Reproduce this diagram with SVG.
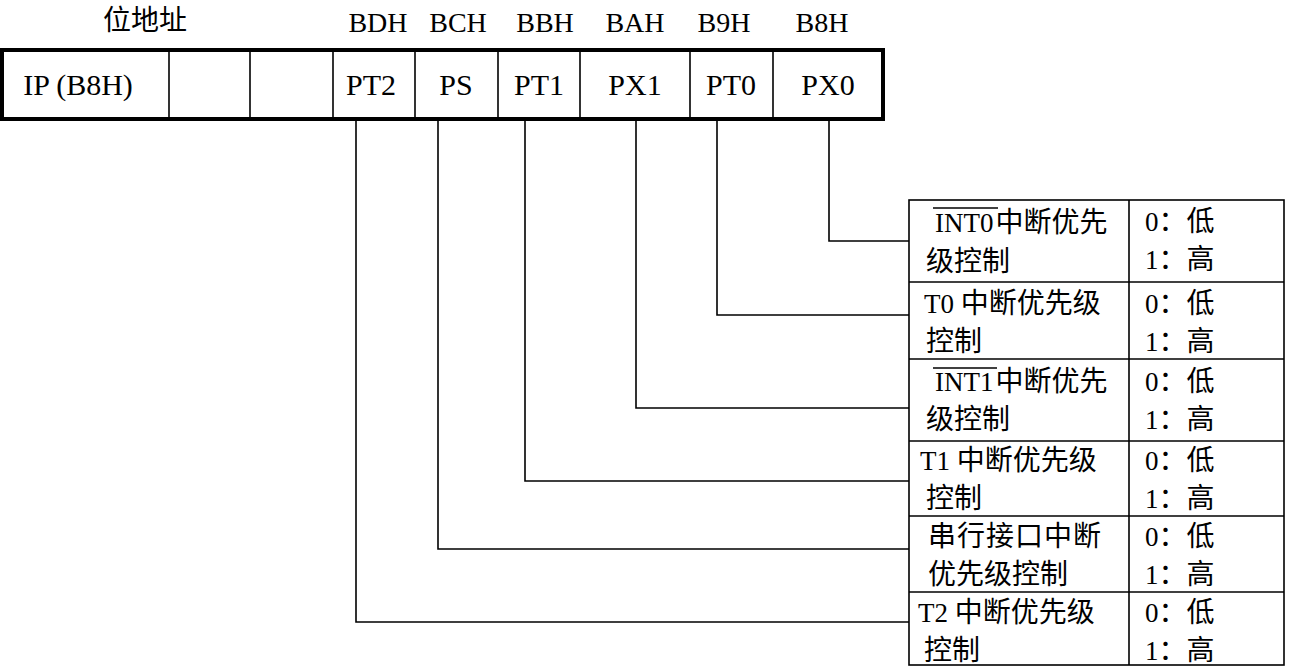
<svg xmlns="http://www.w3.org/2000/svg" width="1289" height="667" viewBox="0 0 1289 667">
<style>
.lat{font-family:"Liberation Serif","Noto Sans CJK SC",serif;fill:#000}
.hdr{font-size:28px;text-anchor:middle}
.reg{font-size:30px;text-anchor:middle}
.tb{font-size:27px}
.cj{font-family:"Noto Sans CJK SC","Liberation Serif",sans-serif;font-size:28px}
.thin{stroke:#000;stroke-width:1.6;fill:none}
.thick{stroke:#000;stroke-width:4;fill:none}
</style>
<rect width="1289" height="667" fill="#fff"/>
<g id="headers">
<text class="cj" x="145" y="30" text-anchor="middle" font-size="27">位地址</text>
<text class="lat hdr" x="378" y="32">BDH</text>
<text class="lat hdr" x="458" y="32">BCH</text>
<text class="lat hdr" x="545" y="32">BBH</text>
<text class="lat hdr" x="635" y="32">BAH</text>
<text class="lat hdr" x="724" y="32">B9H</text>
<text class="lat hdr" x="822" y="32">B8H</text>
</g>
<g id="register">
<line class="thin" x1="169" y1="50" x2="169" y2="119"/>
<line class="thin" x1="250" y1="50" x2="250" y2="119"/>
<line class="thin" x1="333" y1="50" x2="333" y2="119"/>
<line class="thin" x1="415" y1="50" x2="415" y2="119"/>
<line class="thin" x1="498" y1="50" x2="498" y2="119"/>
<line class="thin" x1="580" y1="50" x2="580" y2="119"/>
<line class="thin" x1="690" y1="50" x2="690" y2="119"/>
<line class="thin" x1="773" y1="50" x2="773" y2="119"/>
<rect class="thick" x="2" y="50" width="881" height="69"/>
<text class="lat reg" x="78" y="95">IP (B8H)</text>
<text class="lat reg" x="371" y="95">PT2</text>
<text class="lat reg" x="456" y="95">PS</text>
<text class="lat reg" x="539" y="95">PT1</text>
<text class="lat reg" x="635" y="95">PX1</text>
<text class="lat reg" x="731" y="95">PT0</text>
<text class="lat reg" x="828" y="95">PX0</text>
</g>
<g id="connectors">
<polyline class="thin" points="829,121 829,241 909,241"/>
<polyline class="thin" points="717,121 717,315 909,315"/>
<polyline class="thin" points="636,121 636,408 909,408"/>
<polyline class="thin" points="525,121 525,481 909,481"/>
<polyline class="thin" points="438,121 438,549 909,549"/>
<polyline class="thin" points="356,121 356,622 909,622"/>
</g>
<g id="table">
<rect class="thin" x="909" y="200" width="375" height="465" stroke-width="2"/>
<line class="thin" x1="1129" y1="200" x2="1129" y2="665"/>
<line class="thin" x1="909" y1="282" x2="1284" y2="282"/>
<line class="thin" x1="909" y1="359" x2="1284" y2="359"/>
<line class="thin" x1="909" y1="441" x2="1284" y2="441"/>
<line class="thin" x1="909" y1="516" x2="1284" y2="516"/>
<line class="thin" x1="909" y1="592" x2="1284" y2="592"/>
</g>
<g id="row-px0">
<text class="lat tb" x="935" y="232">INT0<tspan class="cj" dx="2">中断优先</tspan></text>
<line class="thin" x1="933" y1="208" x2="998" y2="208" stroke-width="1.4"/>
<text class="cj" x="926" y="271">级控制</text>
<text class="lat tb" x="1145" y="231">0<tspan class="cj">：低</tspan></text>
<text class="lat tb" x="1145" y="269">1<tspan class="cj">：高</tspan></text>
</g>
<g id="row-pt0">
<text class="lat tb" x="924" y="313">T0 <tspan class="cj">中断优先级</tspan></text>
<text class="cj" x="926" y="351">控制</text>
<text class="lat tb" x="1145" y="313">0<tspan class="cj">：低</tspan></text>
<text class="lat tb" x="1145" y="351">1<tspan class="cj">：高</tspan></text>
</g>
<g id="row-px1">
<text class="lat tb" x="935" y="391">INT1<tspan class="cj" dx="2">中断优先</tspan></text>
<line class="thin" x1="933" y1="368" x2="997" y2="368" stroke-width="1.4"/>
<text class="cj" x="926" y="429">级控制</text>
<text class="lat tb" x="1145" y="391">0<tspan class="cj">：低</tspan></text>
<text class="lat tb" x="1145" y="429">1<tspan class="cj">：高</tspan></text>
</g>
<g id="row-pt1">
<text class="lat tb" x="920" y="470">T1 <tspan class="cj">中断优先级</tspan></text>
<text class="cj" x="926" y="508">控制</text>
<text class="lat tb" x="1145" y="470">0<tspan class="cj">：低</tspan></text>
<text class="lat tb" x="1145" y="508">1<tspan class="cj">：高</tspan></text>
</g>
<g id="row-ps">
<text class="cj" x="928" y="546" letter-spacing="1">串行接口中断</text>
<text class="cj" x="928" y="584">优先级控制</text>
<text class="lat tb" x="1145" y="546">0<tspan class="cj">：低</tspan></text>
<text class="lat tb" x="1145" y="584">1<tspan class="cj">：高</tspan></text>
</g>
<g id="row-pt2">
<text class="lat tb" x="918" y="622">T2 <tspan class="cj">中断优先级</tspan></text>
<text class="cj" x="924" y="660">控制</text>
<text class="lat tb" x="1145" y="622">0<tspan class="cj">：低</tspan></text>
<text class="lat tb" x="1145" y="660">1<tspan class="cj">：高</tspan></text>
</g>
</svg>
